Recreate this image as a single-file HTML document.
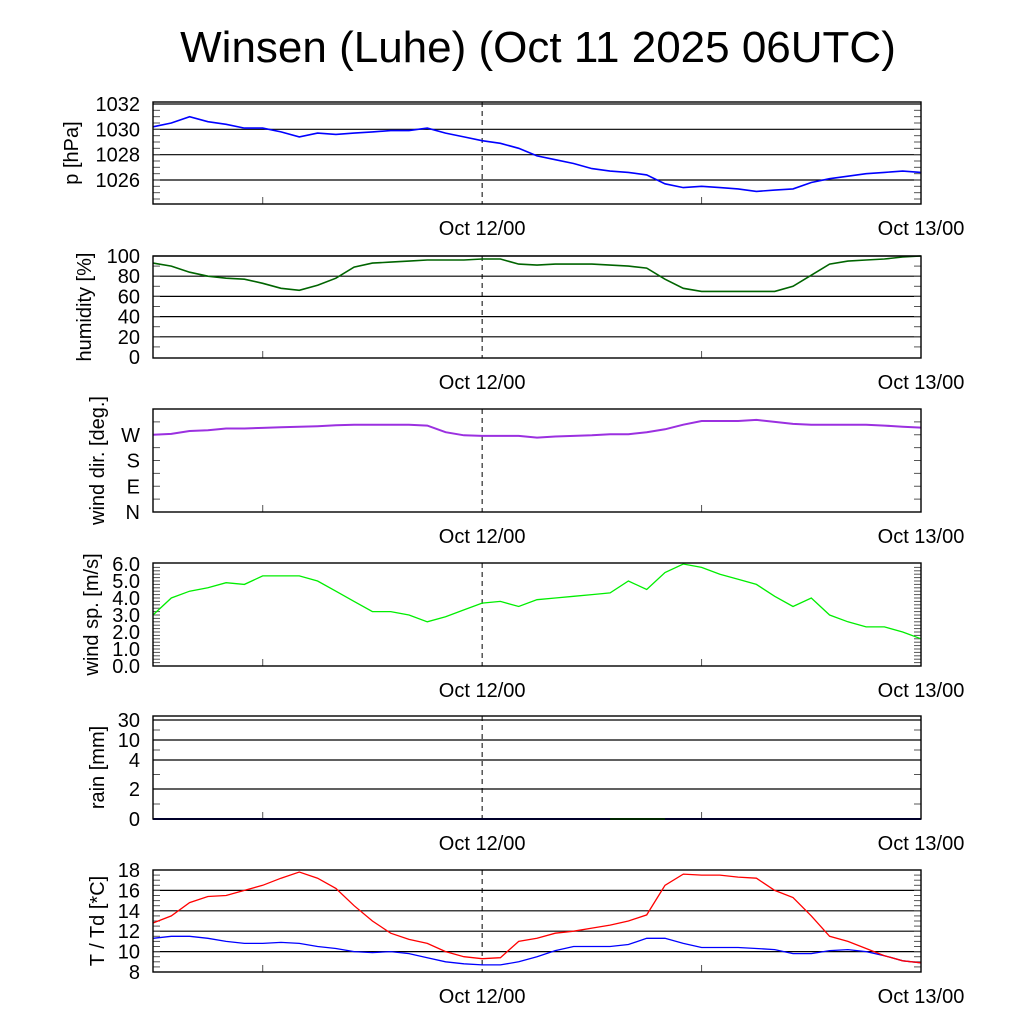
<!DOCTYPE html>
<html><head><meta charset="utf-8"><style>
html,body{margin:0;padding:0;background:#fff;}
svg{display:block;font-family:"Liberation Sans",sans-serif;}
</style></head><body>
<svg id="c" width="1024" height="1024" viewBox="0 0 1024 1024">
<text x="538" y="62" font-size="44" text-anchor="middle">Winsen (Luhe) (Oct 11 2025 06UTC)</text>
</svg>
<script>
const hours = [0,1,2,3,4,5,6,7,8,9,10,11,12,13,14,15,16,17,18,19,20,21,22,23,24,25,26,27,28,29,30,31,32,33,34,35,36,37,38,39,40,41,42];
const pressure = [1030.2,1030.5,1031.0,1030.6,1030.4,1030.1,1030.1,1029.8,1029.4,1029.7,1029.6,1029.7,1029.8,1029.9,1029.9,1030.1,1029.7,1029.4,1029.1,1028.9,1028.5,1027.9,1027.6,1027.3,1026.9,1026.7,1026.6,1026.4,1025.7,1025.4,1025.5,1025.4,1025.3,1025.1,1025.2,1025.3,1025.8,1026.1,1026.3,1026.5,1026.6,1026.7,1026.6];
const humidity = [93,90,84,80,78,77,73,68,66,71,78,89,93,94,95,96,96,96,97,97,92,91,92,92,92,91,90,88,77,68,65,65,65,65,65,70,81,92,95,96,97,99,100];
const winddir = [270,273,283,286,292,292,294,296,298,300,303,305,305,305,305,302,279,268,266,266,266,260,264,266,268,272,272,279,289,305,318,318,318,322,315,308,305,305,305,305,302,298,295];
const windspeed = [3.0,4.0,4.4,4.6,4.9,4.8,5.3,5.3,5.3,5.0,4.4,3.8,3.2,3.2,3.0,2.6,2.9,3.3,3.7,3.8,3.5,3.9,4.0,4.1,4.2,4.3,5.0,4.5,5.5,6.0,5.8,5.4,5.1,4.8,4.1,3.5,4.0,3.0,2.6,2.3,2.3,2.0,1.6];
const temp = [12.8,13.5,14.8,15.4,15.5,16.0,16.5,17.2,17.8,17.2,16.2,14.5,13.0,11.8,11.2,10.8,10.0,9.5,9.3,9.4,11.0,11.3,11.8,12.0,12.3,12.6,13.0,13.6,16.5,17.6,17.5,17.5,17.3,17.2,16.0,15.3,13.5,11.5,11.0,10.3,9.6,9.1,8.9];
const dewpoint = [11.3,11.5,11.5,11.3,11.0,10.8,10.8,10.9,10.8,10.5,10.3,10.0,9.9,10.0,9.8,9.4,9.0,8.8,8.7,8.7,9.0,9.5,10.1,10.5,10.5,10.5,10.7,11.3,11.3,10.8,10.4,10.4,10.4,10.3,10.2,9.8,9.8,10.1,10.2,10.0,9.6,9.1,8.9];
const rain = [0,0,0,0,0,0,0,0,0,0,0,0,0,0,0,0,0,0,0,0,0,0,0,0,0,0,0,0,0,0,0,0,0,0,0,0,0,0,0,0,0,0,0];
const xTickLabels = ["Oct 12/00","Oct 13/00"];
const xTickHours = [18,42];

const svg = document.getElementById('c');
const NS = 'http://www.w3.org/2000/svg';
const X0 = 153, X1 = 921, H = 42;
const xs = h => X0 + (X1 - X0) * h / H;
function mk(tag, attrs, parent){ const e = document.createElementNS(NS, tag); for (const k in attrs) e.setAttribute(k, attrs[k]); (parent||svg).appendChild(e); return e; }

function panel(name, top, bot, yfn, grid, labels, minor, ylabel, series, titleX){
  const g = mk('g', {});
  
  
  grid.forEach(v => { const y = yfn(v); const l = mk('line', {x1:X0,x2:X1,y1:y,y2:y,stroke:'#000','stroke-width':1.2}, g);   });
  minor.forEach(v => { const y = yfn(v); mk('line', {x1:X0,x2:X0+7,y1:y,y2:y,stroke:'#555','stroke-width':1}, g); mk('line', {x1:X1-7,x2:X1,y1:y,y2:y,stroke:'#555','stroke-width':1}, g); });
  labels.forEach(([v,t]) => { const tx = mk('text', {x:X0-13,y:yfn(v)+7,'font-size':20,'text-anchor':'end'}, g); tx.textContent = t;   });
  const dl = mk('line', {x1:xs(18),x2:xs(18),y1:top,y2:bot,stroke:'#000','stroke-width':1,'stroke-dasharray':'5,4'}, g);
  
  
  [6,30].forEach(h => mk('line', {x1:xs(h),x2:xs(h),y1:bot-7,y2:bot,stroke:'#555','stroke-width':1}, g));
  series.forEach(([arr,col,w,nm,from]) => {
    let d = '';
    arr.forEach((v,i) => { if (from !== undefined && i < from) return; d += (d ? 'L' : 'M') + xs(hours[i]).toFixed(1) + ',' + yfn(v).toFixed(1); });
    const p = mk('path', {d:d,fill:'none',stroke:col,'stroke-width':w}, g);
    
    
  });
  const fr = mk('rect', {x:X0,y:top,width:X1-X0,height:bot-top,fill:'none',stroke:'#000','stroke-width':1.4}, g);
  
  
  const cy = (top+bot)/2;
  const yl = mk('text', {x:0,y:0,'font-size':20,'text-anchor':'middle',transform:'translate(' + titleX + ',' + cy + ') rotate(-90)'}, g);
  yl.textContent = ylabel;
  
  
  xTickHours.forEach((h,i) => { const t = mk('text', {x:xs(h),y:bot+31,'font-size':20,'text-anchor':'middle'}, g); t.textContent = xTickLabels[i];   });
}
function lin(v0,y0,v1,y1){ return v => y0 + (v - v0) * (y1 - y0) / (v1 - v0); }
const rng = (a,b,s) => { const r=[]; for(let v=a; v<=b+1e-9; v+=s) r.push(+v.toFixed(3)); return r; };

panel('pressure',102,204,lin(1032,104,1026,180),[1032,1030,1028,1026],[[1032,'1032'],[1030,'1030'],[1028,'1028'],[1026,'1026']],rng(1024.5,1031.5,0.5),'p [hPa]',[[pressure,'#0000ff',1.6,'pressure-line']],78);
panel('humidity',256,358,lin(100,256,0,357),[100,80,60,40,20],[[100,'100'],[80,'80'],[60,'60'],[40,'40'],[20,'20'],[0,'0']],rng(10,90,10),'humidity [%]',[[humidity,'#006400',1.6,'humidity-line']],91);
panel('wind-dir',409,512,lin(0,512,360,409),[],[[270,'W'],[180,'S'],[90,'E'],[0,'N']],rng(45,315,45),'wind dir. [deg.]',[[winddir,'#9b30e0',2,'wind-direction-line']],104);
panel('wind-speed',563,666,lin(0,666,6,564),[],[[6,'6.0'],[5,'5.0'],[4,'4.0'],[3,'3.0'],[2,'2.0'],[1,'1.0'],[0,'0.0']],rng(0.2,5.8,0.2),'wind sp. [m/s]',[[windspeed,'#00ee00',1.3,'wind-speed-line']],98);
const rainY = v => { const pts=[[0,819],[2,789],[4,760],[10,740],[30,720]]; for(let i=1;i<pts.length;i++){ if(v<=pts[i][0]) return pts[i-1][1]+(v-pts[i-1][0])*(pts[i][1]-pts[i-1][1])/(pts[i][0]-pts[i-1][0]); } return 720; };
panel('rain',716,819,rainY,[30,10,4,2],[[30,'30'],[10,'10'],[4,'4'],[2,'2'],[0,'0']],[1,3,7,20],'rain [mm]',[[rain,'#00008b',2,'rain-line'],[rain.slice(0,29),'#008000',2,'rain-accum-line',25]],104);
panel('temperature',870,972,lin(8,972,18,870),[16,14,12,10],[[18,'18'],[16,'16'],[14,'14'],[12,'12'],[10,'10'],[8,'8']],rng(8.5,17.5,0.5),'T / Td [*C]',[[dewpoint,'#0000ff',1.3,'dewpoint-line'],[temp,'#ff0000',1.3,'temperature-line']],104);
</script>
</body></html>
